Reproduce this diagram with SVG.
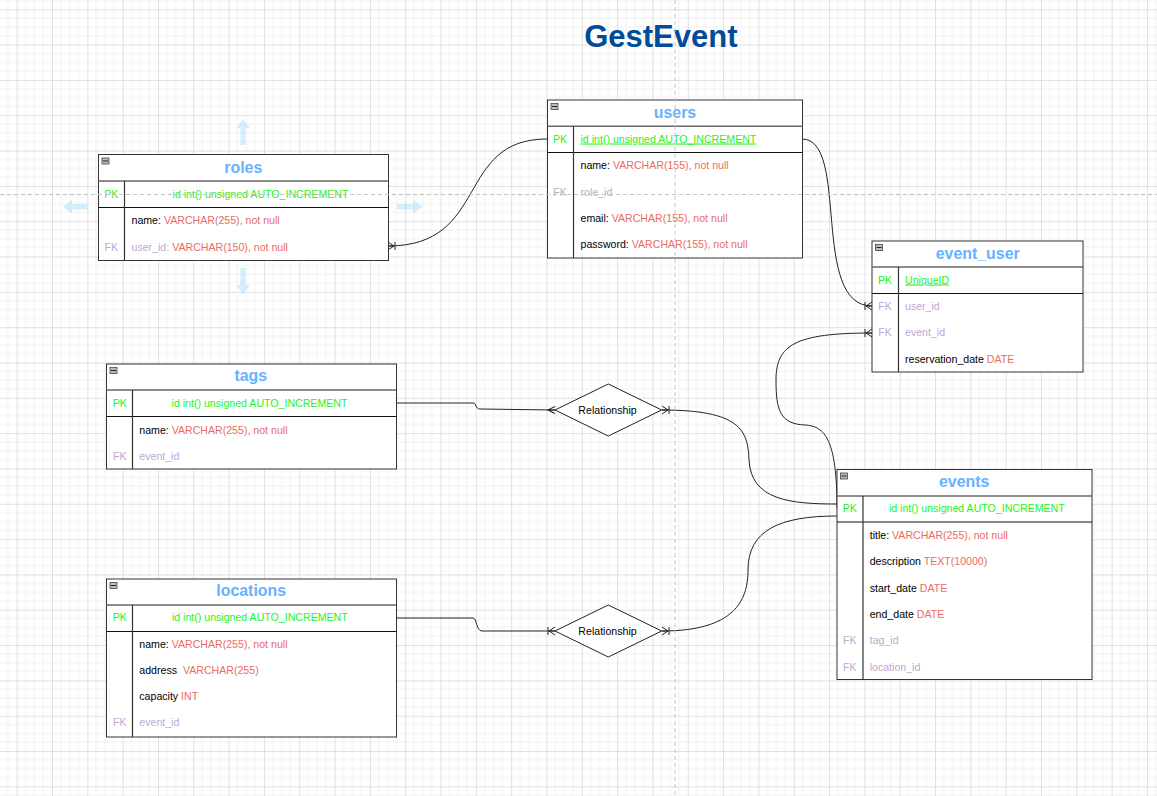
<svg xmlns="http://www.w3.org/2000/svg" width="1157" height="796" viewBox="0 0 1157 796">
<style>
.tbl{fill:#fff;stroke:#333;stroke-width:1}
.hdr{stroke:#666;stroke-width:1.5}
.sep{stroke:#111;stroke-width:1}
.col{stroke:#333;stroke-width:1.2}
.ico{fill:#bbb;stroke:#444;stroke-width:0.8}
.icl{stroke:#222;stroke-width:1}
text{font-family:"Liberation Sans",Arial,Helvetica,sans-serif;font-size:10.6px;fill:#000}
.h{font-size:15.9px;font-weight:bold;fill:#66B2FF;text-anchor:middle}
.c{text-anchor:middle}
.pk{fill:#22F522}
.fk{fill:#BFA6D6}
.ty{fill:#EA6B66}
.u{text-decoration:underline}
.conn{fill:none;stroke:#222;stroke-width:1}
.mk{fill:none;stroke:#222;stroke-width:1}
.hov{fill:#29B6F2;fill-opacity:0.2}
.pb{stroke:#c4c4c4;stroke-width:1;stroke-dasharray:4 3}
</style>
<defs>
<pattern id="grid" patternUnits="userSpaceOnUse" x="16.7" y="9.3" width="35.32" height="35.32">
<path d="M8.83 0V35.32M17.66 0V35.32M26.49 0V35.32M0 8.83H35.32M0 17.66H35.32M0 26.49H35.32" stroke="#f2f2f2" stroke-width="1" fill="none"/>
<path d="M0.5 0V35.32M0 0.5H35.32" stroke="#e0e0e0" stroke-width="1" fill="none"/>
</pattern>
<marker id="one2many" markerUnits="userSpaceOnUse" markerWidth="16" markerHeight="12" refX="14" refY="6" orient="auto-start-reverse" overflow="visible">
<path class="mk" d="M14 2L8 6L14 10M8 6H14M7 2V10"/>
</marker>
<marker id="many" markerUnits="userSpaceOnUse" markerWidth="16" markerHeight="12" refX="14" refY="6" orient="auto-start-reverse" overflow="visible">
<path class="mk" d="M14 2.5L7 6L14 9.5M7 6H14"/>
</marker>
</defs>
<rect width="1157" height="796" fill="#fff"/>
<rect width="1157" height="796" fill="url(#grid)"/>

<g id="title"><text x="660.8" y="47" class="c" style="font-size:31px;font-weight:bold;fill:#004C99">GestEvent</text></g>

<g id="hover-arrows">
<polygon class="hov" points="243,119 250,128 245.7,128 245.7,145 240.3,145 240.3,128 236,128"/>
<polygon class="hov" points="243,294 250,285 245.7,285 245.7,268 240.3,268 240.3,285 236,285"/>
<polygon class="hov" points="62.7,206.7 72,199.7 72,204 87.3,204 87.3,209.4 72,209.4 72,213.7"/>
<polygon class="hov" points="422.7,206.7 413.4,199.7 413.4,204 396.7,204 396.7,209.4 413.4,209.4 413.4,213.7"/>
</g>

<g id="connectors">
<path class="conn" d="M547 139C455 139 490 246 388 246" marker-end="url(#one2many)"/>
<path class="conn" d="M802 139C850 139 810 306 872 306" marker-end="url(#one2many)"/>
<path class="conn" d="M837 508C837 440 825 426 805 425C780 424 776 410 776 380C776 345 795 333 872 333" marker-end="url(#one2many)"/>
<path class="conn" d="M396 403H473C477 403 475 409 480 409L555 410" marker-end="url(#many)"/>
<path class="conn" d="M662 410C740 410 748 430 749 460C751 500 790 504 837 504" marker-start="url(#one2many)"/>
<path class="conn" d="M396 618H473C477 618 476 631 482 631H555" marker-end="url(#one2many)"/>
<path class="conn" d="M662 631C735 631 748 600 748 570C748 530 780 516 837 516" marker-start="url(#one2many)"/>
</g>

<g id="roles">
<rect class="tbl" x="98.5" y="154.5" width="290" height="106"/>
<path class="hdr" d="M98.5 181H388.5"/>
<path class="sep" d="M98.5 207.5H388.5"/>
<path class="col" d="M124.5 181V260.5"/>
<rect class="ico" x="102" y="158" width="7" height="6"/><path class="icl" d="M103 161H108"/>
<text class="h" x="243.3" y="173.3">roles</text>
<text class="pk c" x="111.3" y="198">PK</text>
<text class="pk c" x="260.5" y="198">id int() unsigned AUTO_INCREMENT</text>
<text x="131.5" y="224">name: <tspan class="ty">VARCHAR(255), not null</tspan></text>
<text class="fk c" x="111.3" y="250.5">FK</text>
<text x="131.5" y="250.5"><tspan class="fk">user_id:</tspan><tspan class="ty"> VARCHAR(150), not null</tspan></text>
</g>

<g id="users">
<rect class="tbl" x="547.5" y="100" width="255" height="158"/>
<path class="hdr" d="M547.5 126.3H802.5"/>
<path class="sep" d="M547.5 152.5H802.5"/>
<path class="col" d="M573.5 126.3V258"/>
<rect class="ico" x="551" y="103.5" width="7" height="6"/><path class="icl" d="M552 106.5H557"/>
<text class="h" x="675" y="117.7">users</text>
<text class="pk c" x="560" y="142.5">PK</text>
<text class="pk u" x="580.5" y="142.5">id int() unsigned AUTO_INCREMENT</text>
<text x="580.5" y="169">name: <tspan class="ty">VARCHAR(155), not null</tspan></text>
<text class="fk c" x="560" y="196">FK</text>
<text class="fk" x="580.5" y="196">role_id</text>
<text x="580.5" y="222">email: <tspan class="ty">VARCHAR(155), not null</tspan></text>
<text x="580.5" y="248">password: <tspan class="ty">VARCHAR(155), not null</tspan></text>
</g>

<g id="event_user">
<rect class="tbl" x="872" y="241" width="211" height="131"/>
<path class="hdr" d="M872 267H1083"/>
<path class="sep" d="M872 293.5H1083"/>
<path class="col" d="M898.5 267V372"/>
<rect class="ico" x="875.5" y="244.5" width="7" height="6"/><path class="icl" d="M876.5 247.5H881.5"/>
<text class="h" x="977.7" y="259">event_user</text>
<text class="pk c" x="885" y="283.5">PK</text>
<text class="pk u" x="905" y="283.5">UniqueID</text>
<text class="fk c" x="885" y="309.5">FK</text>
<text class="fk" x="905" y="309.5">user_id</text>
<text class="fk c" x="885" y="336">FK</text>
<text class="fk" x="905" y="336">event_id</text>
<text x="905" y="363">reservation_date <tspan class="ty">DATE</tspan></text>
</g>

<g id="tags">
<rect class="tbl" x="106.5" y="364" width="290" height="105"/>
<path class="hdr" d="M106.5 390H396.5"/>
<path class="sep" d="M106.5 416.5H396.5"/>
<path class="col" d="M132.5 390V469"/>
<rect class="ico" x="110" y="367.5" width="7" height="6"/><path class="icl" d="M111 370.5H116"/>
<text class="h" x="250.8" y="380.7">tags</text>
<text class="pk c" x="119.7" y="407">PK</text>
<text class="pk c" x="259.5" y="407">id int() unsigned AUTO_INCREMENT</text>
<text x="139.3" y="433.5">name: <tspan class="ty">VARCHAR(255), not null</tspan></text>
<text class="fk c" x="119.7" y="460">FK</text>
<text class="fk" x="139.3" y="460">event_id</text>
</g>

<g id="locations">
<rect class="tbl" x="106.5" y="579" width="290" height="158"/>
<path class="hdr" d="M106.5 605H396.5"/>
<path class="sep" d="M106.5 631.5H396.5"/>
<path class="col" d="M132.5 605V737"/>
<rect class="ico" x="110" y="582.5" width="7" height="6"/><path class="icl" d="M111 585.5H116"/>
<text class="h" x="251.2" y="595.7">locations</text>
<text class="pk c" x="119.7" y="621">PK</text>
<text class="pk c" x="259.8" y="621">id int() unsigned AUTO_INCREMENT</text>
<text x="139.3" y="648.3">name: <tspan class="ty">VARCHAR(255), not null</tspan></text>
<text x="139.3" y="674.3">address <tspan class="ty" dx="3">VARCHAR(255)</tspan></text>
<text x="139.3" y="699.7">capacity <tspan class="ty">INT</tspan></text>
<text class="fk c" x="119.7" y="726.3">FK</text>
<text class="fk" x="139.3" y="726.3">event_id</text>
</g>

<g id="events">
<rect class="tbl" x="837" y="469.5" width="255" height="210"/>
<path class="hdr" d="M837 496H1092"/>
<path class="sep" d="M837 522H1092"/>
<path class="col" d="M863 496V679.5"/>
<rect class="ico" x="840.5" y="473" width="7" height="6"/><path class="icl" d="M841.5 476H846.5"/>
<text class="h" x="964.2" y="487.3">events</text>
<text class="pk c" x="849.7" y="512">PK</text>
<text class="pk c" x="976.8" y="512">id int() unsigned AUTO_INCREMENT</text>
<text x="869.7" y="539">title: <tspan class="ty">VARCHAR(255), not null</tspan></text>
<text x="869.7" y="565">description <tspan class="ty">TEXT(10000)</tspan></text>
<text x="869.7" y="592">start_date <tspan class="ty">DATE</tspan></text>
<text x="869.7" y="617.7">end_date <tspan class="ty">DATE</tspan></text>
<text class="fk c" x="849.7" y="643.7">FK</text>
<text class="fk" x="869.7" y="643.7">tag_id</text>
<text class="fk c" x="849.7" y="670.7">FK</text>
<text class="fk" x="869.7" y="670.7">location_id</text>
</g>

<g id="rel-tags">
<polygon points="608.3,384 661.7,410 608.3,436 555,410" fill="#fff" stroke="#222" stroke-width="1"/>
<text class="c" x="607.5" y="413.5">Relationship</text>
</g>
<g id="rel-locations">
<polygon points="608.3,605 661.7,631 608.3,657 555,631" fill="#fff" stroke="#222" stroke-width="1"/>
<text class="c" x="607.5" y="634.5">Relationship</text>
</g>

<g id="page-breaks">
<path class="pb" d="M675 0V796"/>
<path class="pb" d="M0 194.5H1157"/>
</g>
</svg>
